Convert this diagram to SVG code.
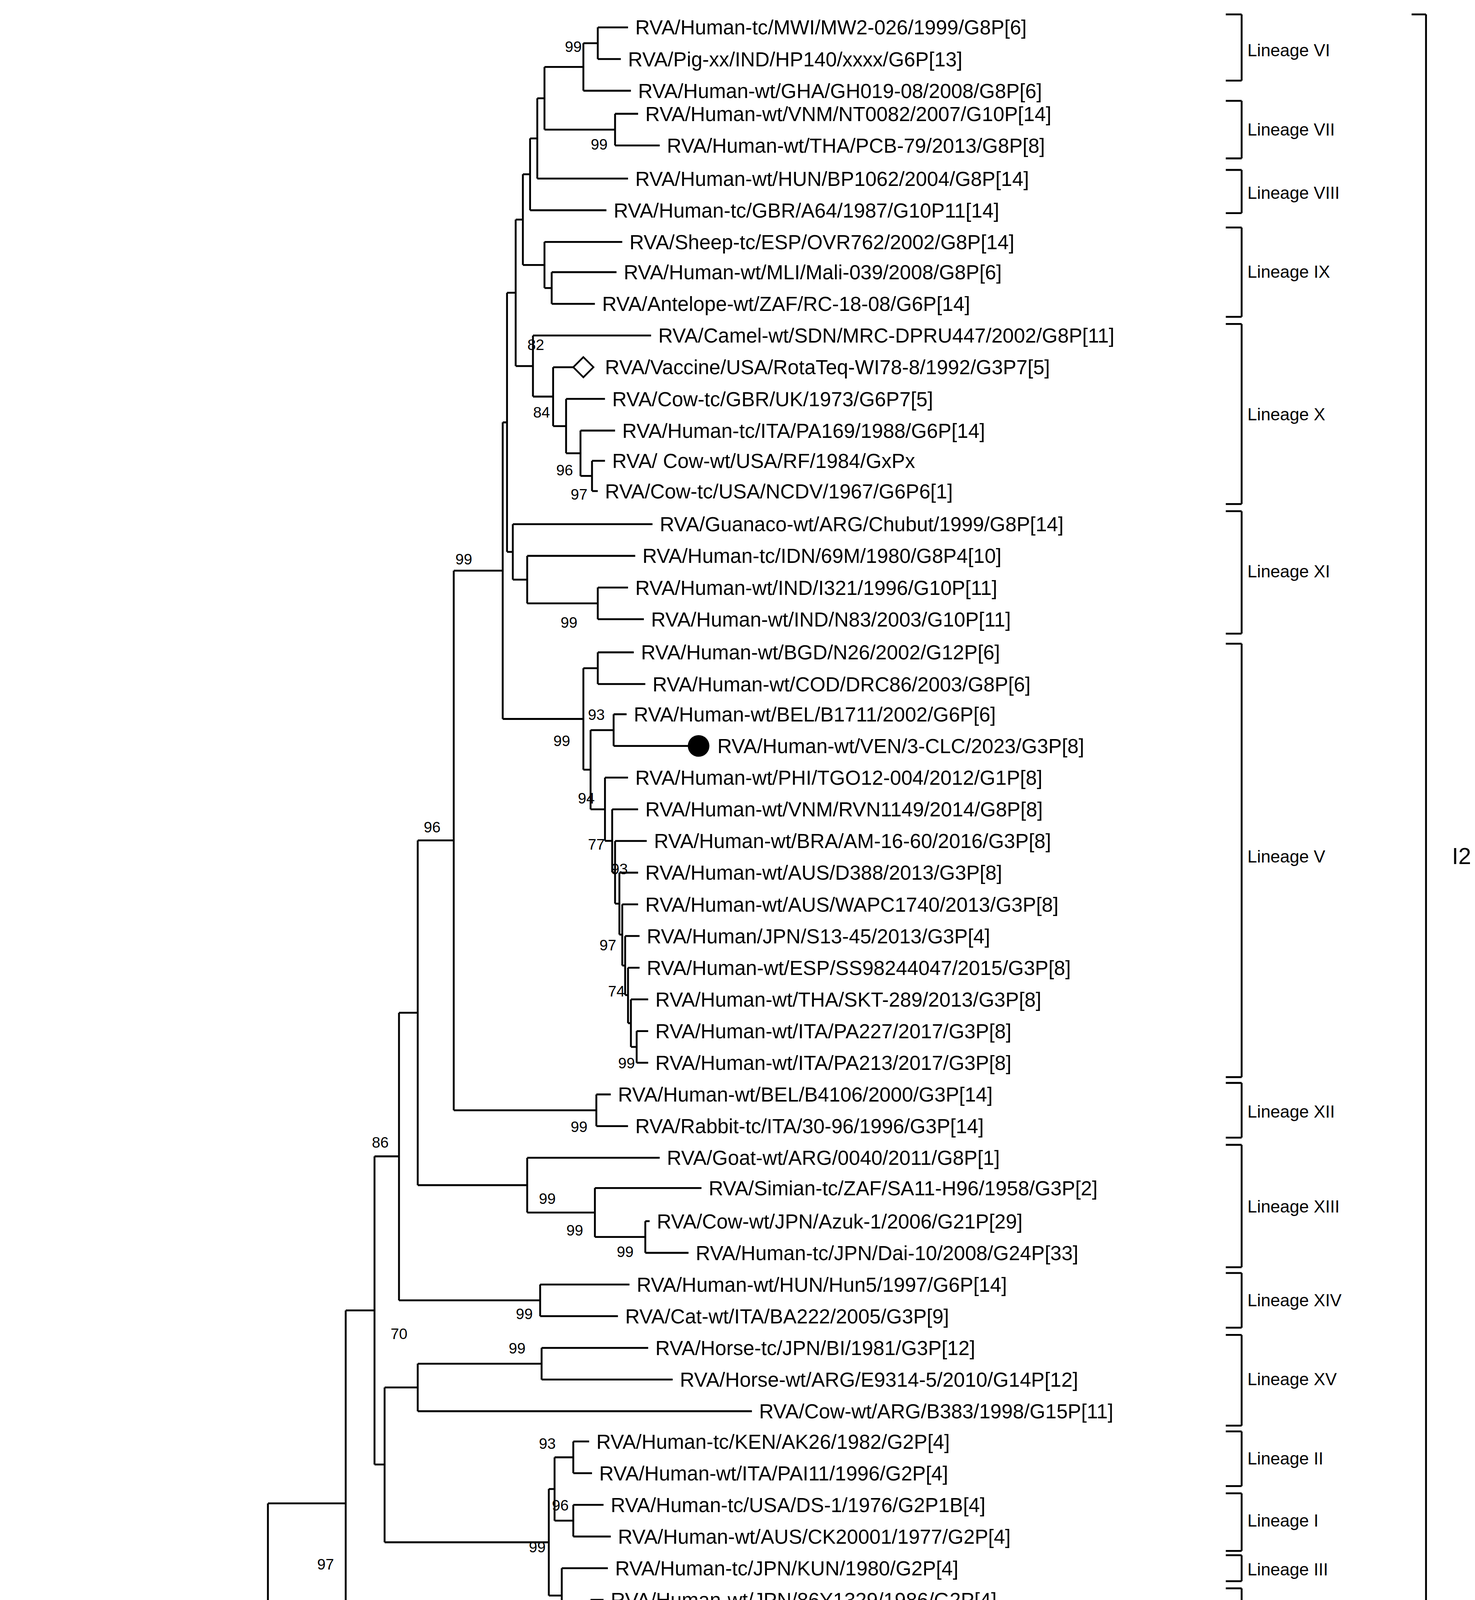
<svg xmlns="http://www.w3.org/2000/svg" width="3775" height="5848" viewBox="0 0 3775 5848">
<style>
.t{font-family:"Liberation Sans",Arial,sans-serif;font-size:14px;fill:#000}
.b{font-family:"Liberation Sans",sans-serif;font-size:10.5px;fill:#000;text-anchor:middle}
.g{font-family:"Liberation Serif",serif;font-size:15px;fill:#000}
.l{font-family:"Liberation Sans",sans-serif;font-size:12px;fill:#000}
.e{fill:none;stroke:#000;stroke-width:1.3}
</style>
<rect width="3775" height="5848" fill="#fff"/>
<g transform="scale(3.6865)">
<g id="connectors" class="e">
<path d="M405,30H415M415,19V41M378,46.5H405M405,30V63M378,90H427M427,79V101M373,68.25H378M378,46.5V90M368,96.1H373M373,68.25V124M363,121H368M368,96.1V146M378,200H383M383,189V211M363,184H378M378,168V200M358,152.5H363M363,121V184M403,330.5H411M411,320V341M393,314.75H403M403,299V330.5M384,295.9H393M393,277V314.75M370,275.4H384M384,255V295.9M358,254.2H370M370,233V275.4M352,203.3H358M358,152.5V254.2M366,419H415M415,408V430M356,402.5H366M366,386V419M352,383.25H356M356,364V402.5M349,293.3H352M352,203.3V383.25"/>
<path d="M405,464H415M415,453V475M410,507H426M426,496V518M438,727H442M442,716V738M436,710.5H438M438,694V727M434,691H436M436,672V710.5M432,670.5H434M434,650V691M430,649H432M432,628V670.5M427,627.5H430M430,606V649M425,605.75H427M427,584V627.5M420,583.9H425M425,562V605.75M410,562H420M420,540V583.9M405,534.5H410M410,507V562M349,499.25H405M405,464V534.5M315,396.3H349M349,293.3V499.25"/>
<path d="M315,771H414M414,760V782M290,583.6H315M315,396.3V771M413,859H448M448,848V870M366,842H413M413,825V859M290,823H366M366,804V842M277,703.3H290M290,583.6V823M277,903H375M375,892V914M260,803H277M277,703.3V903M290,947H376M376,936V958M267,963.5H290M290,947V980M385,1012H398M398,1001V1023M385,1056H398M398,1045V1067M381,1034H385M385,1012V1056M410,1144H420M420,1133V1155M390,1127.5H410M410,1111V1144M381,1108H390M390,1089V1127.5M267,1071H381M381,1034V1108M260,1017H267M267,963.5V1071M240,910H260M260,803V1017M186,1044H240M240,910V1178"/>
<path d="M198,1233H213M213,1222V1244M186,1216H198M198,1199V1233M186,1276.5H228M228,1265V1288M155,1160H186M186,1044V1276.5M183,1321H218M218,1310V1332M183,1367H210M210,1354V1380M155,1344H183M183,1321V1367M149,1252H155M155,1160V1344M105,1327.5H149M149,1252V1403M8,1376H105M105,1327.5V1425M8,1458H185M185,1447V1469M8,1376V1458"/>
<path d="M415,19H436M415,41H431M405,63H438M427,79H443M427,101H458M373,124H436M368,146H421M378,168H432M383,189H428M383,211H413M370,233H452M384,255H399M393,277H420M403,299H427M411,320H420M411,341H415M356,364H453M366,386H441M415,408H436M415,430H447M415,453H440M415,475H448M426,496H435M426,518H478M420,540H436M425,562H443M427,584H449M430,606H443M432,628H443M434,650H444M436,672H444M438,694H450M442,716H450M442,738H450M414,760H424M414,782H436M366,804H458M413,825H487M448,848H451M448,870H478M375,892H437M375,914H429M376,936H450M376,958H467M290,980H522M398,1001H409M398,1023H411M398,1045H419M398,1067H424M390,1089H422M410,1111H419M420,1133H424M420,1155H422M240,1178H436M198,1199H440M213,1222H443M213,1244H478M228,1265H455M228,1288H447M218,1310H437M218,1332H430M210,1354H424M210,1380H290M149,1403H467M105,1425H510M185,1447H517M185,1469H469"/>
<path d="M72,1506H190M72,1500V1512M190,1500V1512"/>
<path d="M862,10V56M851,10H862M851,56H862M862,70V110M851,70H862M851,110H862M862,118V148M851,118H862M851,148H862M862,158V220M851,158H862M851,220H862M862,225V350M851,225H862M851,350H862M862,355V440M851,355H862M851,440H862M862,447V748M851,447H862M851,748H862M862,752V790M851,752H862M851,790H862M862,795V880M851,795H862M851,880H862M862,884V922M851,884H862M851,922H862M862,927V990M851,927H862M851,990H862M862,994V1032M851,994H862M851,1032H862M862,1037V1077M851,1037H862M851,1077H862M862,1080V1098M851,1080H862M851,1098H862M862,1103V1164M851,1103H862M851,1164H862M990,10V1163M980,10H990M980,1163H990"/>
</g>
<g id="markers">
<polygon points="290,1380 430,1368 430,1393" fill="#000"/>
<polygon points="405,248 412,255 405,262 398,255" fill="#fff" stroke="#000" stroke-width="1.2"/>
<circle cx="485" cy="518" r="7.5" fill="#000"/>
</g>
<g id="leaves" class="t">
<text x="441" y="24">RVA/Human-tc/MWI/MW2-026/1999/G8P[6]</text>
<text x="436" y="46">RVA/Pig-xx/IND/HP140/xxxx/G6P[13]</text>
<text x="443" y="68">RVA/Human-wt/GHA/GH019-08/2008/G8P[6]</text>
<text x="448" y="84">RVA/Human-wt/VNM/NT0082/2007/G10P[14]</text>
<text x="463" y="106">RVA/Human-wt/THA/PCB-79/2013/G8P[8]</text>
<text x="441" y="129">RVA/Human-wt/HUN/BP1062/2004/G8P[14]</text>
<text x="426" y="151">RVA/Human-tc/GBR/A64/1987/G10P11[14]</text>
<text x="437" y="173">RVA/Sheep-tc/ESP/OVR762/2002/G8P[14]</text>
<text x="433" y="194">RVA/Human-wt/MLI/Mali-039/2008/G8P[6]</text>
<text x="418" y="216">RVA/Antelope-wt/ZAF/RC-18-08/G6P[14]</text>
<text x="457" y="238">RVA/Camel-wt/SDN/MRC-DPRU447/2002/G8P[11]</text>
<text x="420" y="260">RVA/Vaccine/USA/RotaTeq-WI78-8/1992/G3P7[5]</text>
<text x="425" y="282">RVA/Cow-tc/GBR/UK/1973/G6P7[5]</text>
<text x="432" y="304">RVA/Human-tc/ITA/PA169/1988/G6P[14]</text>
<text x="425" y="325">RVA/ Cow-wt/USA/RF/1984/GxPx</text>
<text x="420" y="346">RVA/Cow-tc/USA/NCDV/1967/G6P6[1]</text>
<text x="458" y="369">RVA/Guanaco-wt/ARG/Chubut/1999/G8P[14]</text>
<text x="446" y="391">RVA/Human-tc/IDN/69M/1980/G8P4[10]</text>
<text x="441" y="413">RVA/Human-wt/IND/I321/1996/G10P[11]</text>
<text x="452" y="435">RVA/Human-wt/IND/N83/2003/G10P[11]</text>
<text x="445" y="458">RVA/Human-wt/BGD/N26/2002/G12P[6]</text>
<text x="453" y="480">RVA/Human-wt/COD/DRC86/2003/G8P[6]</text>
<text x="440" y="501">RVA/Human-wt/BEL/B1711/2002/G6P[6]</text>
<text x="498" y="523">RVA/Human-wt/VEN/3-CLC/2023/G3P[8]</text>
<text x="441" y="545">RVA/Human-wt/PHI/TGO12-004/2012/G1P[8]</text>
<text x="448" y="567">RVA/Human-wt/VNM/RVN1149/2014/G8P[8]</text>
<text x="454" y="589">RVA/Human-wt/BRA/AM-16-60/2016/G3P[8]</text>
<text x="448" y="611">RVA/Human-wt/AUS/D388/2013/G3P[8]</text>
<text x="448" y="633">RVA/Human-wt/AUS/WAPC1740/2013/G3P[8]</text>
<text x="449" y="655">RVA/Human/JPN/S13-45/2013/G3P[4]</text>
<text x="449" y="677">RVA/Human-wt/ESP/SS98244047/2015/G3P[8]</text>
<text x="455" y="699">RVA/Human-wt/THA/SKT-289/2013/G3P[8]</text>
<text x="455" y="721">RVA/Human-wt/ITA/PA227/2017/G3P[8]</text>
<text x="455" y="743">RVA/Human-wt/ITA/PA213/2017/G3P[8]</text>
<text x="429" y="765">RVA/Human-wt/BEL/B4106/2000/G3P[14]</text>
<text x="441" y="787">RVA/Rabbit-tc/ITA/30-96/1996/G3P[14]</text>
<text x="463" y="809">RVA/Goat-wt/ARG/0040/2011/G8P[1]</text>
<text x="492" y="830">RVA/Simian-tc/ZAF/SA11-H96/1958/G3P[2]</text>
<text x="456" y="853">RVA/Cow-wt/JPN/Azuk-1/2006/G21P[29]</text>
<text x="483" y="875">RVA/Human-tc/JPN/Dai-10/2008/G24P[33]</text>
<text x="442" y="897">RVA/Human-wt/HUN/Hun5/1997/G6P[14]</text>
<text x="434" y="919">RVA/Cat-wt/ITA/BA222/2005/G3P[9]</text>
<text x="455" y="941">RVA/Horse-tc/JPN/BI/1981/G3P[12]</text>
<text x="472" y="963">RVA/Horse-wt/ARG/E9314-5/2010/G14P[12]</text>
<text x="527" y="985">RVA/Cow-wt/ARG/B383/1998/G15P[11]</text>
<text x="414" y="1006">RVA/Human-tc/KEN/AK26/1982/G2P[4]</text>
<text x="416" y="1028">RVA/Human-wt/ITA/PAI11/1996/G2P[4]</text>
<text x="424" y="1050">RVA/Human-tc/USA/DS-1/1976/G2P1B[4]</text>
<text x="429" y="1072">RVA/Human-wt/AUS/CK20001/1977/G2P[4]</text>
<text x="427" y="1094">RVA/Human-tc/JPN/KUN/1980/G2P[4]</text>
<text x="424" y="1116">RVA/Human-wt/JPN/86Y1329/1986/G2P[4]</text>
<text x="429" y="1138">RVA/Human-tc/JPN/AU109/1994/G8P[4]</text>
<text x="427" y="1160">RVA/Human-wt/CHN/TB-Chen/1996/G2P[4]</text>
<text x="441" y="1183">RVA/Lamb-tc/LP14/GxPx</text>
</g>
<g id="genotypes" class="g">
<text x="446" y="1204">I9</text><text x="449" y="1227">I16</text><text x="484" y="1249">I15</text>
<text x="461" y="1270">I3</text><text x="453" y="1293">I8</text><text x="442" y="1315">I12</text>
<text x="436" y="1337">I5</text><text x="430" y="1359">I6</text><text x="437" y="1387">I1</text>
<text x="473" y="1408">I14</text><text x="516" y="1430">I13</text><text x="523" y="1452">I11</text>
<text x="475" y="1474">I4</text>
<text x="131" y="1535" text-anchor="middle" font-size="14">0.05</text>
<text x="512" y="1584" text-anchor="middle" font-size="20">(<tspan font-weight="bold">B</tspan>) VP6</text>
</g>
<g id="bootstrap" class="b">
<text x="398" y="36">99</text><text x="416" y="104">99</text><text x="372" y="243">82</text><text x="376" y="290">84</text>
<text x="392" y="330">96</text><text x="402" y="347">97</text><text x="322" y="392">99</text><text x="395" y="436">99</text>
<text x="414" y="500">93</text><text x="390" y="518">99</text><text x="407" y="558">94</text><text x="430" y="607">93</text>
<text x="414" y="590">77</text><text x="422" y="660">97</text><text x="428" y="692">74</text><text x="435" y="742">99</text>
<text x="300" y="578">96</text><text x="402" y="786">99</text><text x="264" y="797">86</text><text x="380" y="836">99</text>
<text x="399" y="858">99</text><text x="434" y="873">99</text><text x="364" y="916">99</text><text x="359" y="940">99</text>
<text x="277" y="930">70</text><text x="380" y="1006">93</text><text x="389" y="1049">96</text><text x="373" y="1078">99</text>
<text x="378" y="1124">80</text><text x="400" y="1142">99</text><text x="405" y="1160">98</text><text x="226" y="1090">97</text>
<text x="208" y="1293">71</text><text x="206" y="1309">75</text><text x="169" y="1360">89</text><text x="200" y="1381">72</text>
<text x="262" y="1403">99</text><text x="138" y="1333">90</text><text x="173" y="1481">99</text>
</g>
<g id="lineages" class="l">
<text x="866" y="39">Lineage VI</text><text x="866" y="94">Lineage VII</text><text x="866" y="138">Lineage VIII</text>
<text x="866" y="193">Lineage IX</text><text x="866" y="292">Lineage X</text><text x="866" y="401">Lineage XI</text>
<text x="866" y="599">Lineage V</text><text x="866" y="776">Lineage XII</text><text x="866" y="842">Lineage XIII</text>
<text x="866" y="907">Lineage XIV</text><text x="866" y="962">Lineage XV</text><text x="866" y="1017">Lineage II</text>
<text x="866" y="1060">Lineage I</text><text x="866" y="1094">Lineage III</text><text x="866" y="1138">Lineage IV</text>
<text x="1008" y="600" font-size="16">I2</text>
</g>
</g>
</svg>
